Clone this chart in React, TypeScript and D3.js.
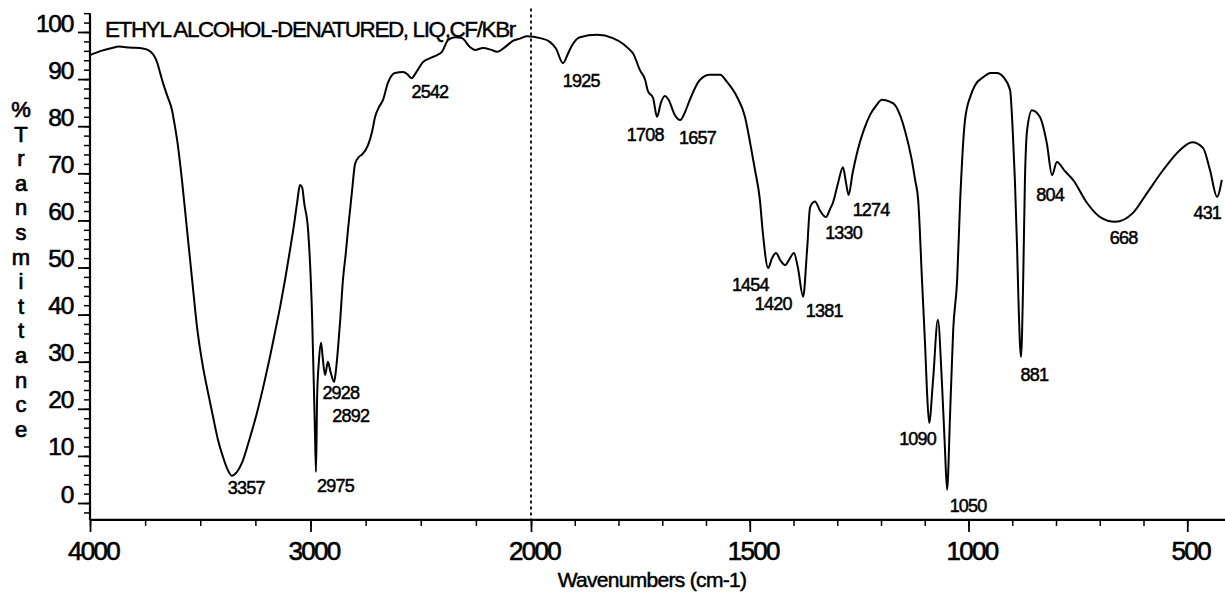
import React, { useEffect, useRef } from 'react';
import * as d3 from 'd3';

// spectrum: [wavenumber cm-1, %T]
const spectrum: [number, number][] = [
  [4000, 95.1], [3950, 96], [3900, 96.6], [3870, 96.9], [3820, 96.7], [3760, 96.5], [3730, 96],
  [3710, 95], [3696, 93.6], [3680, 91], [3669, 89.2], [3650, 86.5], [3628, 83.4], [3615, 80],
  [3605, 77.1], [3583, 68.6], [3560, 58], [3537, 47.5], [3515, 37.5], [3488, 29], [3465, 23.5],
  [3442, 18.3], [3420, 13.5], [3397, 9.8], [3375, 7], [3357, 5.8], [3335, 6.5], [3311, 8.5],
  [3280, 13], [3243, 19.1], [3210, 25.5], [3184, 31], [3160, 36.5], [3138, 41.6], [3115, 47.5],
  [3093, 53.7], [3075, 59], [3060, 64], [3048, 67.5], [3038, 67], [3028, 63.5], [3011, 58],
  [2993, 40], [2980, 15.5], [2975, 6.6], [2970, 22.5], [2962, 30], [2952, 34], [2945, 31],
  [2934, 27.2], [2921, 30], [2910, 28], [2893, 25.7], [2885, 28], [2875, 33], [2865, 39],
  [2853, 47.3], [2840, 53], [2830, 58], [2821, 62], [2810, 67], [2798, 72], [2780, 73.5],
  [2766, 74], [2739, 76], [2720, 79], [2707, 82], [2690, 84], [2671, 85.6], [2649, 89.2],
  [2617, 91.3], [2580, 91.5], [2560, 91], [2542, 90.2], [2520, 91.5], [2490, 93.6], [2455, 94.5],
  [2426, 95.1], [2404, 95.8], [2376, 98.3], [2345, 98.9], [2313, 98.7], [2277, 96.8], [2254, 96.2],
  [2218, 96.6], [2180, 96.2], [2154, 95.8], [2118, 96.8], [2082, 98.1], [2050, 98.6], [2018, 99.1],
  [1979, 98.7], [1957, 97.9], [1943, 96.5], [1927, 93.4], [1915, 95.5], [1906, 97.2], [1888, 98.9],
  [1849, 99.4], [1813, 98.7], [1790, 97.5], [1774, 96.2], [1767, 95.5], [1751, 91.9], [1739, 89.8],
  [1733, 87.5], [1721, 86], [1712, 82], [1703, 85], [1694, 86.4], [1685, 85.5], [1672, 82.5],
  [1659, 81.3], [1648, 83], [1637, 85.6], [1614, 89.8], [1591, 90.9], [1568, 90.9], [1552, 89.4],
  [1529, 86.2], [1511, 82], [1499, 76.4], [1488, 70.7], [1477, 64.5], [1470, 57.3], [1458, 49.9],
  [1449, 52], [1440, 53.1], [1430, 51.5], [1419, 50.5], [1408, 52], [1399, 53.1], [1390, 50],
  [1378, 43.8], [1369, 53.7], [1362, 62.8], [1351, 64], [1339, 62], [1326, 60.7], [1316, 62.5],
  [1310, 63.7], [1298, 68], [1287, 71.3], [1280, 68], [1274, 65.4], [1265, 70], [1253, 75],
  [1240, 79], [1225, 82.4], [1210, 84.5], [1198, 85.6], [1180, 85.2], [1168, 84.5], [1155, 82],
  [1145, 79], [1130, 73], [1122, 68.6], [1115, 64.3], [1106, 46.7], [1099, 33.1], [1095, 24],
  [1090, 17], [1081, 26.1], [1070, 38.9], [1061, 26.1], [1054, 11.9], [1049, 2.8], [1042, 19.1],
  [1035, 36.7], [1026, 47.3], [1019, 64.3], [1008, 81.3], [995, 86.5], [985, 88.7], [965, 90.5],
  [950, 91.3], [935, 91.3], [920, 90.4], [905, 87.7], [899, 79.2], [894, 68.6], [889, 54.4],
  [886, 43.7], [880, 31], [875, 47.3], [871, 68.6], [866, 79.2], [855, 83.4], [837, 82],
  [821, 76.4], [809, 69.6], [798, 72.4], [780, 70.5], [761, 68.6], [729, 63.7], [699, 60.7],
  [665, 59.7], [624, 61.6], [592, 65.8], [555, 70.7], [517, 74.9], [489, 76.6], [464, 75.4],
  [448, 70.7], [432, 65], [421, 68.6],
];

// labelled peaks: wavenumber and %T at the dip
const peakWn = [3357, 2975, 2928, 2892, 2542, 1925, 1708, 1657, 1454, 1420, 1381, 1330, 1274, 1090, 1050, 881, 804, 668, 431];
const peakT = [5.8, 6.6, 27.2, 25.7, 90.2, 93.4, 82, 81.3, 49.9, 50.5, 43.8, 60.7, 65.4, 17, 2.8, 31, 69.6, 59.7, 65];
// label nudges in px from the dip
const labelNudge = [[-4, 18], [1, 20], [-4, 24], [-2, 40], [0, 20], [-1, 24], [-32, 24], [-2, 24], [-38, 23], [-30, 45],
  [4, 20], [1, 22], [4, 21], [-30, 22], [3, 22], [0, 24], [-18, 26], [-4, 22], [-24, 22]];

const xMajor = [4000, 3000, 2000, 1500, 1000, 500];
const yMajor = [0, 10, 20, 30, 40, 50, 60, 70, 80, 90, 100];
const title = 'ETHYL ALCOHOL-DENATURED, LIQ,CF/KBr';
const yTitle = '%Transmittance';
const xTitle = 'Wavenumbers (cm-1)';

const W = 1225;
const H = 592;
const FONT = '"Liberation Sans", Arial, sans-serif';

export default function App() {
  const svgRef = useRef<SVGSVGElement>(null);

  useEffect(() => {
    const svg = d3.select(svgRef.current);
    svg.selectAll('*').remove();

    // split scale: 4000-2000 compressed, 2000-400 expanded
    const x = d3.scaleLinear().domain([4000, 2000, 400]).range([90, 531, 1231]);
    const y = d3.scaleLinear().domain([0, 100]).range([503, 32]);
    const yTop = 104, yBot = -3.6;

    const xMinor = [...d3.range(4000, 2000, -250), ...d3.range(2000, 399, -100)];
    const yMinor = d3.range(-2, 105, 2);

    // dotted line at 2000
    svg.append('line')
      .attr('x1', x(2000)).attr('x2', x(2000))
      .attr('y1', y(105)).attr('y2', y(yBot))
      .attr('stroke', '#000').attr('stroke-width', 1.8)
      .attr('stroke-dasharray', '3,3');

    // x axis
    const gx = svg.append('g').attr('transform', `translate(0,${y(yBot)})`);
    gx.call(d3.axisBottom(x).tickValues(xMinor).tickSize(6).tickSizeOuter(0).tickFormat(() => ''));
    gx.selectAll('.tick line').attr('stroke-width', 1.5);
    const gx2 = svg.append('g').attr('transform', `translate(0,${y(yBot)})`);
    gx2.call(d3.axisBottom(x).tickValues(xMajor).tickSize(12).tickSizeOuter(0).tickPadding(10)
      .tickFormat(d => String(d)));
    gx2.select('.domain').remove();
    gx2.selectAll('.tick line').attr('stroke-width', 1.8);
    gx2.selectAll('.tick text')
      .attr('font-family', FONT).attr('font-size', 26).attr('letter-spacing', -1.7)
      .attr('fill', '#000').attr('stroke', '#000').attr('stroke-width', 0.6)
      .attr('dx', 3).attr('dy', '0.7em');
    gx.select('.domain').attr('stroke-width', 2.2).attr('d', `M${x(4000)},0H${W}`);

    // y axis
    const gy = svg.append('g').attr('transform', `translate(${x(4000)},0)`);
    gy.call(d3.axisLeft(y).tickValues(yMinor).tickSize(6).tickSizeOuter(0).tickFormat(() => ''));
    gy.select('.domain').attr('stroke-width', 2.2).attr('d', `M0,${y(yTop)}V${y(yBot)}`);
    gy.selectAll('.tick line').attr('stroke-width', 1.5);
    const gy2 = svg.append('g').attr('transform', `translate(${x(4000)},0)`);
    gy2.call(d3.axisLeft(y).tickValues(yMajor).tickSize(12).tickSizeOuter(0).tickPadding(4));
    gy2.select('.domain').remove();
    gy2.selectAll('.tick line').attr('stroke-width', 1.8);
    gy2.selectAll('.tick text')
      .attr('font-family', FONT).attr('font-size', 24.5).attr('letter-spacing', -1.3)
      .attr('fill', '#000').attr('stroke', '#000').attr('stroke-width', 0.6)
      .attr('dy', -1).attr('x', -17).attr('dominant-baseline', 'auto');

    // spectrum
    const line = d3.line<[number, number]>()
      .x(d => x(d[0]))
      .y(d => y(d[1]))
      .curve(d3.curveMonotoneX);
    svg.append('path')
      .datum(spectrum)
      .attr('fill', 'none')
      .attr('stroke', '#000')
      .attr('stroke-width', 2)
      .attr('stroke-linejoin', 'round')
      .attr('d', line);

    // peak labels
    svg.append('g').selectAll('text')
      .data(peakWn)
      .join('text')
      .attr('x', (d, i) => x(d) + labelNudge[i][0])
      .attr('y', (d, i) => y(peakT[i]) + labelNudge[i][1])
      .attr('font-family', FONT).attr('font-size', 18).attr('letter-spacing', -0.8)
      .attr('fill', '#000').attr('stroke', '#000').attr('stroke-width', 0.5)
      .text(d => String(d));

    // title
    svg.append('text')
      .attr('x', 105).attr('y', 37)
      .attr('font-family', FONT).attr('font-size', 22.5).attr('letter-spacing', -1.4)
      .attr('fill', '#000').attr('stroke', '#000').attr('stroke-width', 0.4)
      .text(title);

    // stacked y title
    svg.append('g').selectAll('text')
      .data(yTitle.split(''))
      .join('text')
      .attr('x', 21)
      .attr('y', (_, i) => 117 + i * 24.6)
      .attr('text-anchor', 'middle')
      .attr('font-family', FONT).attr('font-size', 22)
      .attr('fill', '#000').attr('stroke', '#000').attr('stroke-width', 0.7)
      .text(d => d);

    // x title
    svg.append('text')
      .attr('x', 652).attr('y', 587)
      .attr('text-anchor', 'middle')
      .attr('font-family', FONT).attr('font-size', 21).attr('letter-spacing', -0.7)
      .attr('fill', '#000').attr('stroke', '#000').attr('stroke-width', 0.5)
      .text(xTitle);
  }, []);

  return (
    <div style={{ position: 'absolute', left: 0, top: 0, width: W, height: H, background: '#fff' }}>
      <svg ref={svgRef} width={W} height={H} style={{ display: 'block' }} />
    </div>
  );
}
